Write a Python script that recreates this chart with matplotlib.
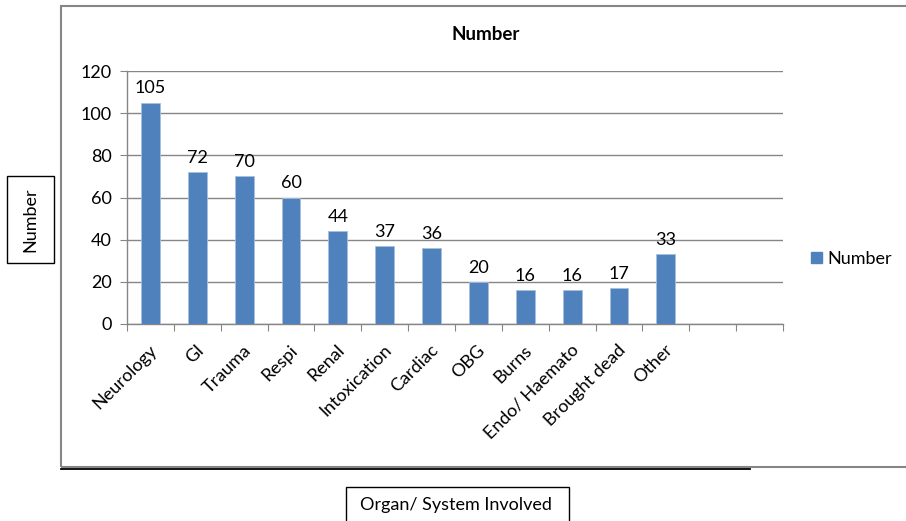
import matplotlib
matplotlib.use('Agg')
import matplotlib.pyplot as plt
from matplotlib.patches import Rectangle, Patch
from matplotlib.lines import Line2D
import numpy as np

plt.rcParams['font.family'] = ['Lato', 'DejaVu Sans']

# Data
categories = ['Neurology', 'GI', 'Trauma', 'Respi', 'Renal', 'Intoxication',
              'Cardiac', 'OBG', 'Burns', 'Endo/ Haemato', 'Brought dead', 'Other']
values = [105, 72, 70, 60, 44, 37, 36, 20, 16, 16, 17, 33]
n_slots = 14  # two empty category slots at the right end
y_ticks = [0, 20, 40, 60, 80, 100, 120]

W, H = 906, 521
fig = plt.figure(figsize=(W / 100, H / 100), dpi=100)

def fx(px):
    return px / W

def fy(py):
    return 1 - py / H

FS = 13

# Plot area
ax = fig.add_axes([fx(127), fy(324), fx(783) - fx(127), fy(71) - fy(324)])
grey = '#868686'
bar_color = '#4F81BD'

x = np.arange(len(values))
ax.bar(x, values, width=0.4, color=bar_color, edgecolor='#A7BFDE', linewidth=0.6,
       zorder=3, label='Number')
for xi, v in zip(x, values):
    ax.text(xi, v + 3, str(v), ha='center', va='bottom', fontsize=FS)

ax.set_xlim(-0.5, n_slots - 0.5)
ax.set_ylim(0, 120)
ax.set_yticks(y_ticks)
ax.yaxis.grid(True, color=grey, linewidth=1, zorder=0)
ax.tick_params(axis='y', length=5, color=grey, labelsize=FS, pad=6)

# category boundaries as ticks, labels at category centres
ax.set_xticks(np.arange(n_slots + 1) - 0.5)
ax.set_xticklabels([])
ax.tick_params(axis='x', length=5, color=grey)
for xi, lab in zip(x, categories):
    ax.text(xi - 0.03, -8.5, lab, rotation=45, ha='right', va='top',
            rotation_mode='anchor', fontsize=FS)

for s in ['top', 'right']:
    ax.spines[s].set_visible(False)
for s in ['left', 'bottom']:
    ax.spines[s].set_color(grey)
    ax.spines[s].set_linewidth(1)

fig.text(fx(486), fy(34), 'Number', ha='center', va='center',
         fontsize=13.5, fontweight='bold')

# legend
leg = fig.legend(handles=[Patch(color=bar_color, label='Number')],
                 loc='center left', bbox_to_anchor=(fx(811), fy(259)),
                 frameon=False, fontsize=FS, handlelength=0.6,
                 handleheight=0.6, handletextpad=0.3, borderpad=0,
                 borderaxespad=0)

# outer chart border and bottom rule
fig.add_artist(Rectangle((fx(61), fy(467)), fx(W + 5) - fx(61), fy(6) - fy(467),
                         transform=fig.transFigure, fill=False,
                         edgecolor=grey, linewidth=1.5))
fig.add_artist(Line2D([fx(61), fx(750)], [fy(468.5), fy(468.5)],
                      transform=fig.transFigure, color='black', linewidth=1.3))

# axis title boxes
fig.text(fx(30.5), fy(219.5), 'Number', rotation=90, ha='center', va='center',
         fontsize=FS)
fig.add_artist(Rectangle((fx(7), fy(263)), fx(54) - fx(7), fy(176) - fy(263),
                         transform=fig.transFigure, fill=False,
                         edgecolor='black', linewidth=1))
fig.text(fx(456), fy(505), 'Organ/ System Involved', ha='center', va='center',
         fontsize=FS)
fig.add_artist(Rectangle((fx(346), fy(525)), fx(569) - fx(346), fy(487) - fy(525),
                         transform=fig.transFigure, fill=False,
                         edgecolor='black', linewidth=1))

fig.savefig('out.png', dpi=100)
